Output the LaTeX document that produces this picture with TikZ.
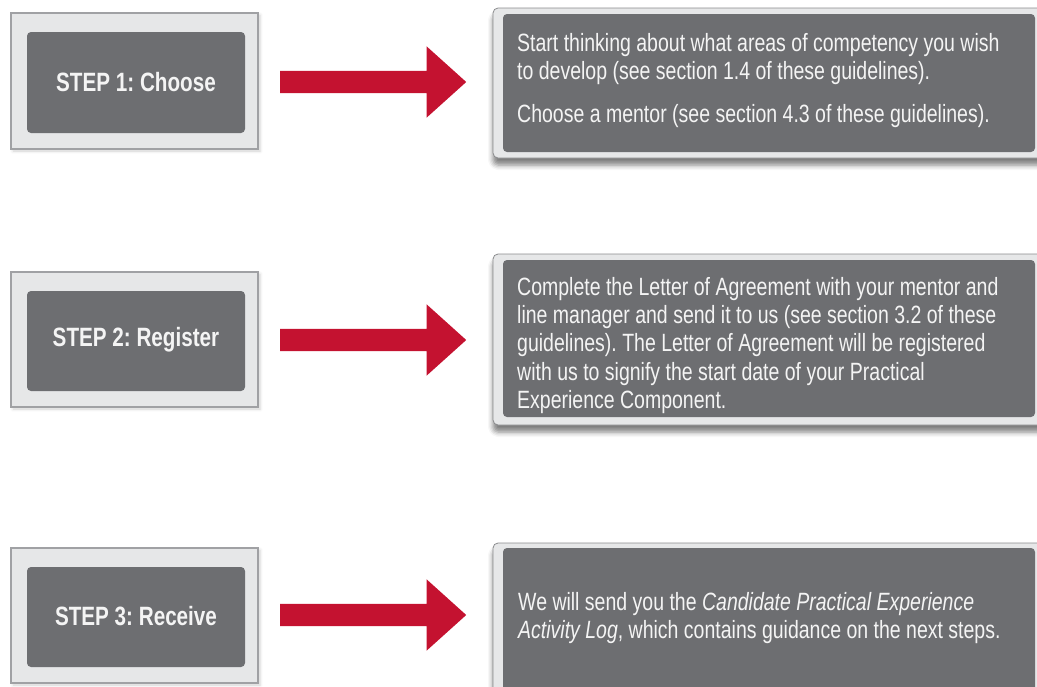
\documentclass[tikz,border=0pt]{standalone}
\usepackage{fontspec}
\setmainfont[FakeStretch=0.78]{Liberation Sans}
\usetikzlibrary{shapes.arrows,shadows.blur}
\frenchspacing
\definecolor{boxgray}{HTML}{6D6E71}
\definecolor{paleg}{HTML}{E6E7E8}
\definecolor{frameg}{HTML}{A0A1A4}
\definecolor{edgeg}{HTML}{8A8B8D}
\definecolor{stepred}{HTML}{C41230}
\definecolor{txtw}{HTML}{F4F4F4}
\tikzset{
  outerleft/.style={draw=frameg, line width=1.8pt, fill=paleg,
    blur shadow={shadow xshift=2pt, shadow yshift=-2pt, shadow opacity=18, shadow blur radius=3pt}},
  innerbox/.style={fill=boxgray, rounded corners=4pt},
  outerright/.style={draw=edgeg, line width=0.8pt, fill=paleg, rounded corners=5pt,
    blur shadow={shadow xshift=0pt, shadow yshift=-7pt, shadow opacity=50, shadow blur radius=5pt}},
  steplabel/.style={text=txtw, font=\fontsize{26.5}{30}\selectfont\bfseries, inner sep=0pt},
  desc/.style={text=txtw, font=\fontsize{25}{28.3}\selectfont, align=left, inner sep=0pt, anchor=north west},
  bigarrow/.style={single arrow, fill=stepred, draw=none, inner xsep=0pt, inner ysep=11pt,
    minimum height=186pt, single arrow head extend=24.5pt, single arrow tip angle=84,
    single arrow head indent=0pt},
}
\begin{document}
\begin{tikzpicture}[x=1pt,y=-1pt]
\useasboundingbox (0,0) rectangle (1037,686);
% ---------- left step boxes
\path[outerleft] (11,13) rectangle (258,149);
\path[innerbox] (27,32) rectangle (245,133);
\node[steplabel] (s1) at (136,82) {STEP 1: Choose};
\path[outerleft] (11,272) rectangle (258,407);
\path[innerbox] (27,291) rectangle (245,391);
\node[steplabel] (s2) at (136,340) {STEP 2: Register};
\path[outerleft] (11,548) rectangle (258,683);
\path[innerbox] (27,567) rectangle (245,667);
\node[steplabel] (s3) at (136,616) {STEP 3: Receive};
% ---------- arrows
\node[bigarrow] (a1) at (367,82) {};
\node[bigarrow] (a2) at (367,340) {};
\node[bigarrow] (a3) at (367,615) {};
% ---------- right description boxes
\path[outerright] (493,8) rectangle (1050,158);
\path[innerbox] (503,14) rectangle (1035,152);
\node[desc] (d1) at (517,33) {Start thinking about what areas of competency you wish\\
to develop (see section 1.4 of these guidelines).\\[14.7pt]
Choose a mentor (see section 4.3 of these guidelines).};
\path[outerright] (493,254) rectangle (1050,425);
\path[innerbox] (503,260) rectangle (1035,417);
\node[desc] (d2) at (517,277) {Complete the Letter of Agreement with your mentor and\\
line manager and send it to us (see section 3.2 of these\\
guidelines). The Letter of Agreement will be registered\\
with us to signify the start date of your Practical\\
Experience Component.};
\path[outerright] (493,543) rectangle (1050,700);
\path[innerbox] (503,548) rectangle (1035,695);
\node[desc] (d3) at (518,592) {We will send you the \textit{Candidate Practical Experience}\\
\textit{Activity Log}, which contains guidance on the next steps.};
\end{tikzpicture}
\end{document}
